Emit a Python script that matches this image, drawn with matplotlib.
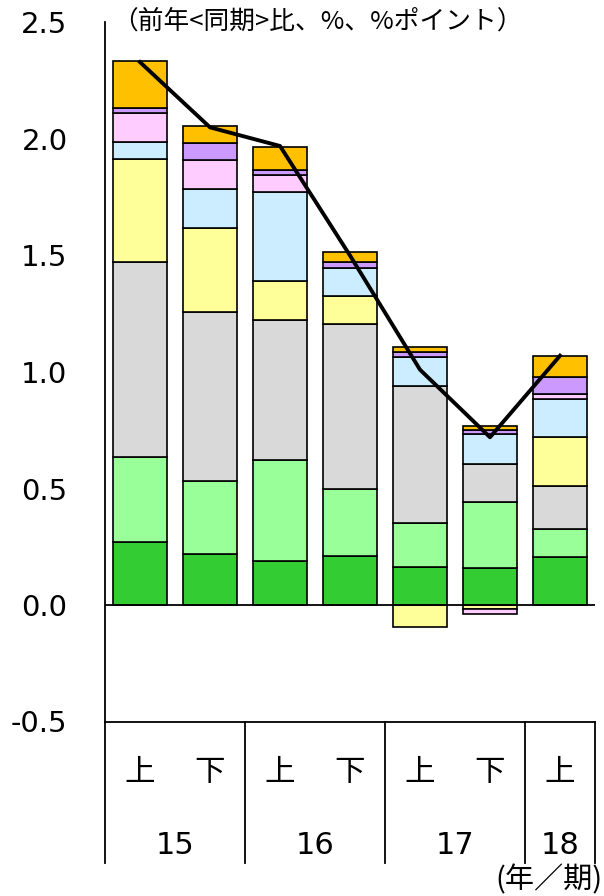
import matplotlib
matplotlib.use("Agg")
import matplotlib.pyplot as plt
import numpy as np
from matplotlib.lines import Line2D

# half-year periods
halves = ["上", "下", "上", "下", "上", "下", "上"]
years = ["15", "16", "17", "18"]

# contributions, stacked bottom -> top
dark_green = [0.270, 0.218, 0.190, 0.212, 0.165, 0.160, 0.207]
light_green = [0.367, 0.314, 0.432, 0.284, 0.186, 0.283, 0.118]
gray = [0.836, 0.724, 0.601, 0.710, 0.590, 0.162, 0.187]
yellow = [0.441, 0.363, 0.169, 0.120, -0.093, -0.018, 0.208]
light_blue = [0.075, 0.166, 0.382, 0.119, 0.125, 0.130, 0.164]
pink = [0.124, 0.124, 0.071, 0.0, 0.0, -0.022, 0.022]
purple = [0.021, 0.074, 0.022, 0.025, 0.019, 0.015, 0.071]
orange = [0.202, 0.071, 0.100, 0.045, 0.021, 0.018, 0.093]
total = [2.33, 2.05, 1.97, 1.50, 1.01, 0.72, 1.07]

series = [dark_green, light_green, gray, yellow, light_blue, pink, purple, orange]
colors = ["#33CC33", "#99FF99", "#D9D9D9", "#FFFF99", "#CCECFF", "#FFCCFF", "#CC99FF", "#FFC000"]

W, H = 604, 896
fig = plt.figure(figsize=(W / 100, H / 100), dpi=100)


def fx(x):
    return x / W


def fy(y):
    return 1 - y / H


ax = fig.add_axes([fx(105), fy(721.5), 490 / W, 699 / H])

x = np.arange(len(halves))
pos_bottom = np.zeros(len(x))
neg_bottom = np.zeros(len(x))
for vals, c in zip(series, colors):
    vals = np.array(vals)
    for i, v in enumerate(vals):
        if v == 0:
            continue
        if v > 0:
            ax.bar(x[i], v, 0.77, bottom=pos_bottom[i], color=c, edgecolor="black", linewidth=1.2, zorder=2)
            pos_bottom[i] += v
        else:
            ax.bar(x[i], v, 0.77, bottom=neg_bottom[i], color=c, edgecolor="black", linewidth=1.2, zorder=2)
            neg_bottom[i] += v

ax.plot(x, total, color="black", linewidth=2.8, zorder=3)
ax.axhline(0, color="black", linewidth=1.3, zorder=2.5)

ax.set_xlim(-0.5, 6.5)
ax.set_ylim(-0.5, 2.5)
ax.set_xticks([])
ax.set_yticks(np.arange(-0.5, 2.51, 0.5))
ax.set_yticklabels([f"{v:.1f}" for v in np.arange(-0.5, 2.51, 0.5)], fontsize=21, family=["DejaVu Sans"])
ax.tick_params(axis="y", length=0, pad=27)
for s in ["top", "right"]:
    ax.spines[s].set_visible(False)
ax.spines["left"].set_linewidth(1.3)
ax.spines["bottom"].set_linewidth(1.3)

# category area below the axes
lines_x = [105, 245, 385, 525, 595]
for lx in lines_x:
    fig.add_artist(Line2D([fx(lx), fx(lx)], [fy(721.5), fy(863)], color="black", linewidth=1.3))

jp = ["Noto Sans CJK JP", "DejaVu Sans"]
for i, h in enumerate(halves):
    fig.text(fx(140 + 70 * i), fy(772), h, ha="center", va="center", fontsize=22, family=jp)
for yr, cx in zip(years, [175, 315, 455, 560]):
    fig.text(fx(cx), fy(845), yr, ha="center", va="center", fontsize=22, family=["DejaVu Sans"])

fig.text(fx(603), fy(880), "(年／期)", ha="right", va="center", fontsize=21, family=jp)
fig.text(fx(112), fy(22), "（前年<同期>比、%、%ポイント）", ha="left", va="center", fontsize=18.5, family=jp)

fig.savefig("out.png", dpi=100)
